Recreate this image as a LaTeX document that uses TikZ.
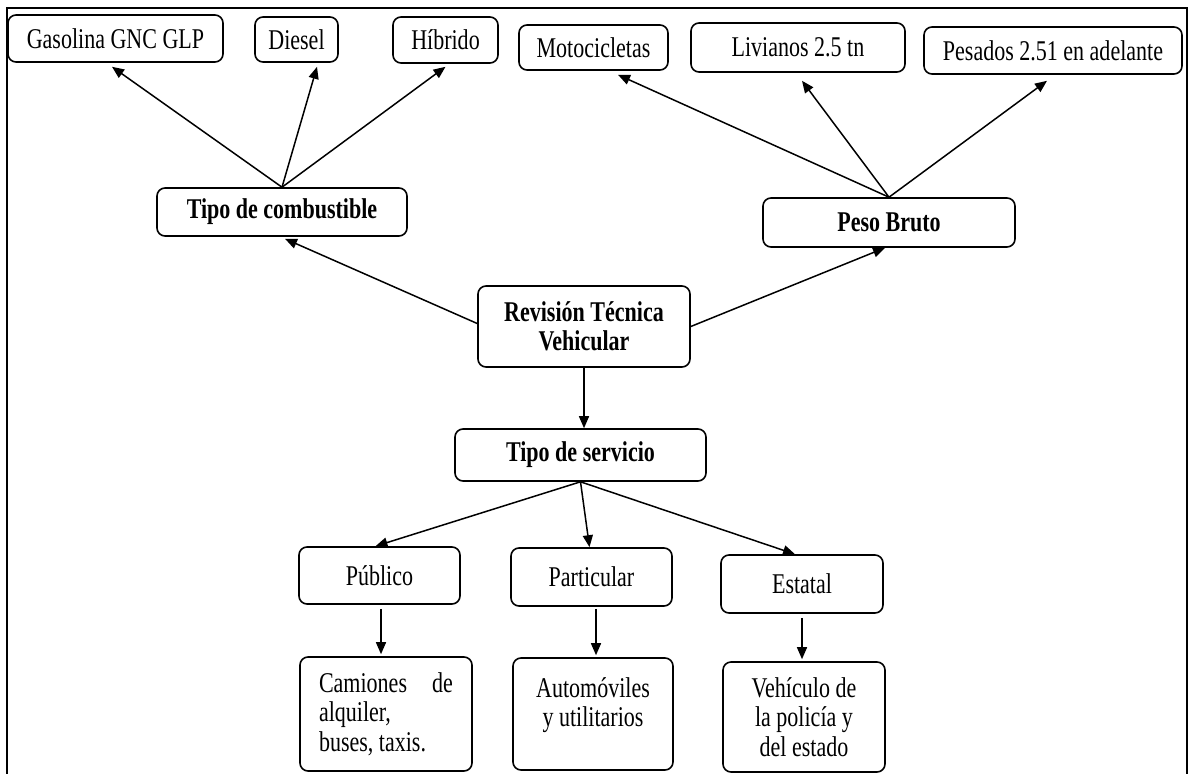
\documentclass[tikz,border=0pt]{standalone}
\usepackage{fontspec}
\setmainfont{Liberation Serif}[FakeStretch=0.77]
\usetikzlibrary{arrows.meta}

\tikzset{
  box/.style={draw, line width=1.6pt, rounded corners=8pt, inner sep=0pt,
              font=\fontsize{28.6}{29.5}\selectfont, align=flush center},
  bbox/.style={box, font=\fontsize{28.6}{29.5}\selectfont\bfseries},
  arr/.style={line width=1.5pt, -{Triangle[length=12pt,width=10pt]}},
  frameline/.style={line width=2.2pt}
}

\begin{document}
\begin{tikzpicture}[x=1pt,y=-1pt]
\useasboundingbox (0,0) rectangle (1190,773);

% open frame round the map
\coordinate (fbl) at (7,775);
\coordinate (ftl) at (7,8);
\coordinate (ftr) at (1187,8);
\coordinate (fbr) at (1187,775);
\draw[frameline] (fbl) -- (ftl) -- (ftr) -- (fbr);

% fuel types
\node[box, minimum width=215pt, minimum height=47pt] (gas) at (115.5,38.5) {Gasolina GNC GLP};
\node[box, minimum width=83pt,  minimum height=45pt] (die) at (296.5,39.5) {Diesel};
\node[box, minimum width=105pt, minimum height=46pt] (hib) at (445.5,40) {Híbrido};

% weight classes
\node[box, minimum width=149pt, minimum height=45pt] (moto) at (593.5,47.5) {Motocicletas};
\node[box, minimum width=214pt, minimum height=49pt] (liv)  at (798,47.5) {Livianos 2.5 tn};
\node[box, minimum width=258pt, minimum height=47pt] (pes)  at (1053,50.5) {Pesados 2.51 en adelante};

% criteria
\node[bbox, minimum width=250pt, minimum height=48pt] (comb) at (282,212) {Tipo de combustible};
\node[bbox, minimum width=252pt, minimum height=49pt] (peso) at (889,222.5) {Peso Bruto};
\node[bbox, minimum width=212pt, minimum height=81pt] (rev)  at (584,326.5) {Revisión Técnica\\Vehicular};
\node[bbox, minimum width=251pt, minimum height=52pt] (serv) at (580.5,455) {Tipo de servicio};

% service kinds
\node[box, minimum width=161pt, minimum height=57pt] (pub) at (379.5,575.5) {Público};
\node[box, minimum width=161pt, minimum height=58pt] (par) at (591.5,577) {Particular};
\node[box, minimum width=162pt, minimum height=58pt] (est) at (802,584) {Estatal};

% examples
\node[box, minimum width=172pt, minimum height=114pt, text width=134pt, align=flush left,
      text height=16pt, text depth=60pt] (cam) at (386,714)
  {Camiones\hfill de\\alquiler,\\buses, taxis.};
\node[box, minimum width=160pt, minimum height=112pt, text width=150pt,
      text height=16pt, text depth=50pt] (aut) at (593,714)
  {Automóviles\\y utilitarios};
\node[box, minimum width=162pt, minimum height=110pt, text width=150pt,
      text height=16pt, text depth=56pt] (veh) at (804,717)
  {Vehículo de\\la policía y\\del estado};

% connectors
\draw[arr] (comb.north) -- ([xshift=-3.5pt,yshift=-4pt]gas.south);
\draw[arr] (comb.north) -- ([xshift=20.5pt,yshift=-4pt]die.south);
\draw[arr] (comb.north) -- ([yshift=-3pt]hib.south);

\draw[arr] (peso.north) -- ([xshift=24.5pt,yshift=-4pt]moto.south);
\draw[arr] (peso.north) -- ([xshift=4pt,yshift=-8pt]liv.south);
\draw[arr] (peso.north) -- ([xshift=-6pt,yshift=-6pt]pes.south);

\draw[arr] ([yshift=3pt]rev.west) -- ([xshift=3pt,yshift=-2pt]comb.south);
\draw[arr] (rev.east) -- ([xshift=-4pt]peso.south);
\draw[arr] (rev.south) -- (rev.south |- serv.north);

\draw[arr] (serv.south) -- ([xshift=-4pt]pub.north);
\draw[arr] (serv.south) -- ([xshift=-2pt]par.north);
\draw[arr] (serv.south) -- ([xshift=-7pt]est.north);

\draw[arr, shorten <=4pt, shorten >=2pt] ([xshift=1.5pt]pub.south) -- ([xshift=1.5pt]pub.south |- cam.north);
\draw[arr, shorten <=2pt, shorten >=2pt] ([xshift=4.5pt]par.south) -- ([xshift=4.5pt]par.south |- aut.north);
\draw[arr, shorten <=4pt, shorten >=2pt] (est.south) -- (est.south |- veh.north);
\end{tikzpicture}
\end{document}
